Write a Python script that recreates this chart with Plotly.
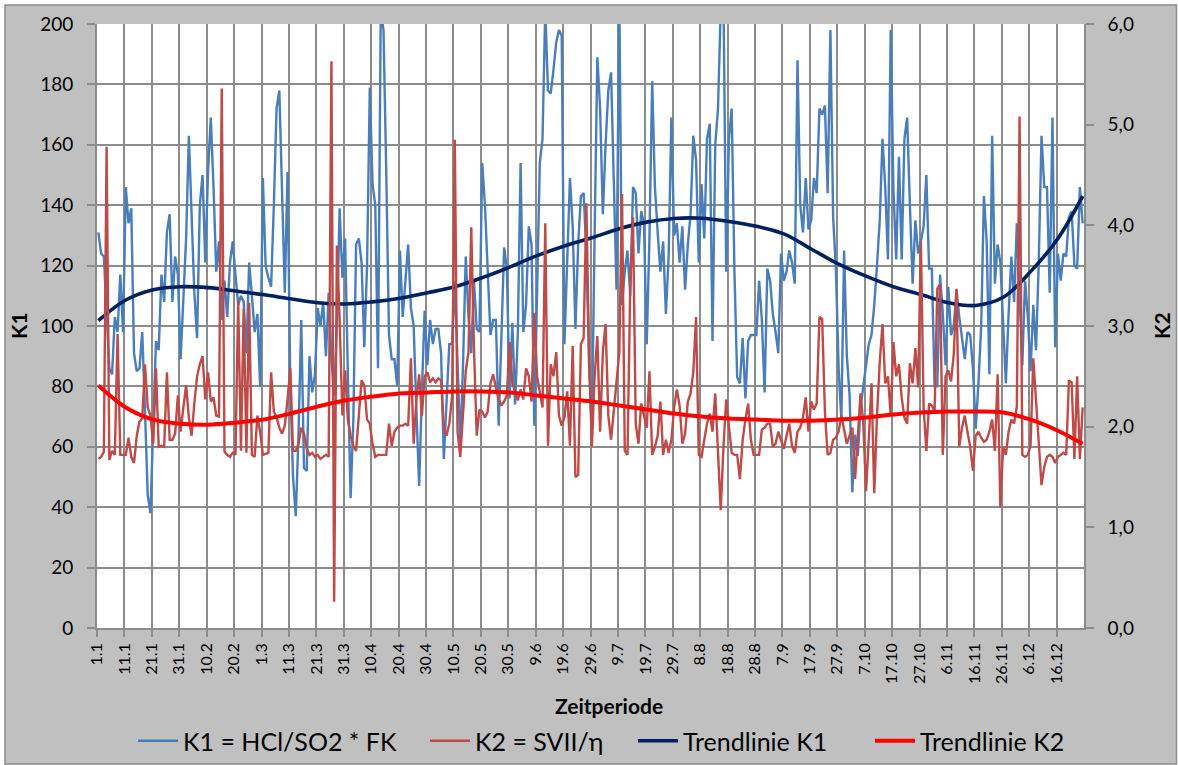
import plotly.graph_objects as go

# ---------------- data ----------------
tick_labels = ["1.1", "11.1", "21.1", "31.1", "10.2", "20.2", "1.3", "11.3", "21.3", "31.3",
               "10.4", "20.4", "30.4", "10.5", "20.5", "30.5", "9.6", "19.6", "29.6", "9.7",
               "19.7", "29.7", "8.8", "18.8", "28.8", "7.9", "17.9", "27.9", "7.10", "17.10",
               "27.10", "6.11", "16.11", "26.11", "6.12", "16.12"]

k1_values = [
    131, 124, 123, 104, 86, 84, 103, 98, 117, 98,
    146, 134, 139, 91, 85, 86, 98, 72, 44, 38,
    70, 95, 92, 117, 108, 131, 137, 108, 123, 117,
    89, 107, 129, 163, 137, 111, 96, 140, 150, 121,
    151, 169, 146, 118, 128, 102, 115, 103, 121, 128,
    117, 107, 110, 108, 91, 121, 110, 98, 104, 80,
    149, 120, 116, 113, 140, 172, 178, 140, 111, 151,
    81, 50, 37, 64, 102, 53, 52, 90, 78, 84,
    106, 100, 108, 90, 111, 89, 77, 100, 139, 116,
    129, 84, 43, 69, 127, 129, 121, 93, 120, 179,
    147, 140, 86, 205, 198, 151, 97, 89, 89, 80,
    125, 103, 115, 127, 106, 100, 72, 47, 78, 105,
    87, 102, 94, 99, 99, 91, 56, 78, 94, 94,
    115, 88, 60, 87, 123, 103, 91, 115, 99, 98,
    154, 140, 120, 97, 102, 102, 67, 97, 126, 119,
    76, 101, 74, 98, 154, 98, 107, 133, 127, 67,
    112, 154, 162, 205, 178, 177, 185, 194, 198, 196,
    94, 123, 149, 133, 99, 127, 143, 144, 124, 87,
    65, 130, 189, 172, 137, 160, 178, 184, 150, 112,
    210, 107, 118, 125, 110, 146, 144, 124, 138, 134,
    94, 129, 181, 146, 131, 118, 128, 104, 123, 169,
    130, 134, 121, 133, 112, 127, 137, 163, 155, 121,
    147, 129, 162, 167, 95, 160, 172, 205, 210, 118,
    162, 172, 118, 83, 81, 96, 76, 95, 97, 97,
    97, 115, 102, 78, 119, 115, 104, 98, 91, 124,
    115, 118, 125, 121, 114, 188, 140, 131, 149, 132,
    135, 149, 144, 172, 170, 173, 144, 198, 136, 119,
    86, 69, 125, 90, 77, 45, 64, 57, 73, 80,
    88, 94, 97, 107, 120, 135, 162, 146, 122, 198,
    145, 122, 156, 122, 162, 169, 140, 114, 135, 124,
    128, 133, 150, 119, 119, 80, 80, 117, 104, 87,
    113, 97, 100, 112, 103, 95, 89, 98, 97, 86,
    66, 81, 100, 143, 128, 84, 163, 114, 127, 121,
    99, 81, 104, 123, 108, 134, 110, 87, 115, 103,
    85, 107, 92, 121, 163, 146, 146, 111, 169, 93,
    124, 115, 124, 123, 136, 138, 120, 119, 146, 134,
]

k2_values = [
    1.68, 1.70, 1.75, 4.78, 1.67, 1.76, 1.72, 2.92, 1.72, 1.72,
    1.72, 1.89, 1.70, 1.64, 1.91, 2.05, 2.08, 2.62, 2.19, 2.11,
    1.83, 2.58, 1.80, 1.81, 1.80, 2.54, 1.87, 1.87, 1.93, 2.31,
    1.95, 2.19, 2.41, 2.09, 1.91, 2.23, 2.50, 2.62, 2.70, 2.27,
    2.54, 2.25, 2.29, 2.11, 2.10, 5.36, 1.75, 1.72, 1.70, 1.74,
    1.72, 3.25, 1.76, 3.17, 1.74, 3.23, 1.72, 1.70, 2.11, 1.95,
    1.72, 1.73, 1.74, 2.54, 2.15, 2.09, 1.99, 1.93, 2.01, 2.27,
    2.58, 1.76, 1.76, 1.83, 1.99, 1.93, 1.78, 1.72, 1.74, 1.70,
    1.72, 1.68, 1.70, 1.72, 1.70, 5.63, 0.26, 3.80, 3.06, 2.11,
    2.56, 2.07, 1.91, 1.81, 1.76, 2.07, 2.46, 2.41, 2.07, 2.03,
    1.83, 1.70, 1.72, 1.72, 1.72, 1.72, 2.03, 1.81, 1.95, 1.99,
    2.01, 2.01, 2.03, 2.01, 2.68, 1.83, 2.27, 2.52, 2.11, 2.50,
    2.54, 2.44, 2.48, 2.44, 2.48, 2.46, 1.99, 1.91, 2.03, 2.30,
    4.85, 1.95, 1.70, 2.11, 2.55, 2.74, 3.98, 2.78, 1.91, 2.17,
    2.15, 2.09, 2.15, 2.43, 2.52, 2.39, 2.27, 2.21, 2.25, 2.31,
    2.84, 2.43, 2.35, 2.26, 2.37, 2.27, 2.58, 2.50, 2.25, 3.13,
    2.50, 2.33, 2.19, 4.02, 1.81, 2.62, 2.50, 2.74, 2.11, 2.01,
    2.09, 2.35, 1.81, 2.80, 1.50, 1.52, 2.82, 2.88, 4.22, 2.66,
    1.80, 2.50, 2.90, 1.95, 2.74, 3.02, 2.11, 1.87, 2.19, 2.45,
    2.74, 4.31, 1.76, 1.72, 3.41, 4.08, 2.03, 1.83, 2.23, 2.11,
    1.99, 2.55, 1.72, 1.80, 1.91, 2.25, 1.72, 1.87, 1.74, 1.87,
    2.19, 2.37, 2.21, 1.83, 1.93, 2.25, 2.33, 2.54, 3.09, 1.72,
    1.70, 1.87, 2.03, 2.13, 1.95, 2.33, 1.68, 1.17, 1.80, 2.27,
    2.00, 1.74, 1.72, 1.72, 1.48, 1.87, 2.07, 2.23, 1.87, 1.72,
    1.72, 1.72, 1.97, 1.99, 2.03, 2.03, 1.80, 1.83, 1.95, 1.87,
    1.78, 1.91, 2.03, 1.81, 1.74, 1.95, 1.99, 2.09, 2.29, 1.95,
    2.25, 2.17, 2.23, 3.09, 3.07, 2.15, 1.72, 1.74, 1.87, 1.89,
    1.95, 2.11, 1.95, 1.83, 1.91, 1.99, 1.48, 1.97, 2.33, 2.03,
    1.36, 1.87, 2.43, 1.34, 2.11, 2.64, 3.02, 2.43, 2.50, 2.11,
    2.84, 2.50, 2.62, 2.29, 2.09, 2.03, 2.63, 2.43, 2.78, 2.39,
    3.84, 2.19, 1.76, 2.23, 2.21, 2.15, 3.37, 3.41, 1.72, 2.50,
    2.56, 2.45, 2.72, 3.37, 1.80, 1.99, 2.11, 1.95, 1.80, 1.56,
    1.91, 1.95, 1.89, 1.85, 1.87, 1.95, 2.07, 1.76, 2.52, 1.20,
    1.80, 1.72, 1.95, 2.07, 2.03, 2.20, 5.08, 1.72, 1.70, 1.72,
    1.81, 2.68, 2.27, 1.87, 1.42, 1.60, 1.70, 1.72, 1.70, 1.64,
    1.70, 1.72, 1.74, 1.72, 2.46, 2.44, 1.68, 2.50, 1.68, 2.19,
]

trend_x = [0, 10, 20, 30, 40, 50, 60, 70, 80, 90, 100, 110, 120, 130, 140, 150, 160, 170,
           180, 190, 200, 210, 220, 230, 240, 250, 260, 270, 280, 290, 300, 310, 320, 330,
           340, 350, 359]
k1_trend = [101.8, 108.6, 112.0, 113.0, 112.7, 111.6, 110.4, 109.0, 107.7, 107.3, 108.0,
            109.2, 111.0, 113.0, 116.0, 119.5, 123.3, 126.5, 129.2, 132.2, 134.4, 135.6,
            135.7, 134.6, 133.0, 130.5, 125.5, 120.5, 116.5, 113.0, 110.4, 107.7, 106.8,
            109.5, 118.0, 129.0, 143.0]
k2_trend = [2.41, 2.19, 2.07, 2.03, 2.02, 2.04, 2.07, 2.13, 2.20, 2.26, 2.30, 2.33, 2.34,
            2.35, 2.35, 2.34, 2.31, 2.28, 2.25, 2.21, 2.17, 2.13, 2.10, 2.08, 2.07, 2.06,
            2.06, 2.07, 2.09, 2.12, 2.14, 2.15, 2.15, 2.14, 2.07, 1.96, 1.83]

names = ["K1 = HCl/SO2 * FK", "K2 = SVII/η", "Trendlinie K1", "Trendlinie K2"]

# ---------------- figure ----------------
FONT = "Lato, 'Open Sans', sans-serif"
W, H = 1178, 765
L, R, T, B = 97, 1084, 24, 628          # plot area in px
pw, ph = R - L, B - T

def px_x(x):
    return (x - L) / pw

def px_y(y):
    return (B - y) / ph

days = list(range(len(k1_values)))

fig = go.Figure()
fig.add_trace(go.Scatter(x=days, y=k1_values, name=names[0], mode="lines",
                         line=dict(color="#4A7EBB", width=2.4), legend="legend"))
fig.add_trace(go.Scatter(x=trend_x, y=k1_trend, name=names[2], mode="lines",
                         line=dict(color="#002060", width=3.6, shape="spline"),
                         legend="legend3"))
fig.add_trace(go.Scatter(x=days, y=k2_values, name=names[1], mode="lines", yaxis="y2",
                         line=dict(color="#BE4B48", width=2.4), legend="legend2"))
fig.add_trace(go.Scatter(x=trend_x, y=k2_trend, name=names[3], mode="lines", yaxis="y2",
                         line=dict(color="#FF0000", width=4, shape="spline"),
                         legend="legend4"))

# legend text starts (px) in the reference
legend_text_x = [183, 475, 683, 920]

def leg(px):
    return dict(orientation="h", xref="container", yref="container",
                x=(px - 50) / W, xanchor="left", y=1 - 741 / H, yanchor="middle",
                font=dict(size=25, family=FONT), bgcolor="rgba(0,0,0,0)",
                itemwidth=40)

grid = "#8C8C8C"
fig.update_layout(
    width=W, height=H,
    margin=dict(l=L, r=W - R, t=T, b=H - B),
    paper_bgcolor="white",
    plot_bgcolor="white",
    separators=",.",
    font=dict(family=FONT, color="black", size=19),
    showlegend=True,
    legend=leg(legend_text_x[0]),
    legend2=leg(legend_text_x[1]),
    legend3=leg(legend_text_x[2]),
    legend4=leg(legend_text_x[3]),
    xaxis=dict(range=[-0.5, len(days) - 0.5], tickmode="array",
               tickvals=[10 * k - 0.5 for k in range(len(tick_labels))],
               ticktext=tick_labels, tickangle=-90, tickfont=dict(size=16),
               showgrid=True, gridcolor=grid, gridwidth=1.6,
               ticks="outside", ticklen=7, tickcolor=grid, tickwidth=1.6,
               showline=True, linecolor=grid, linewidth=1.6, zeroline=False),
    yaxis=dict(range=[0, 200], dtick=20, tickfont=dict(size=19),
               showgrid=True, gridcolor=grid, gridwidth=1.6,
               ticks="outside", ticklen=8, tickcolor=grid, tickwidth=1.6,
               ticklabelstandoff=10,
               showline=True, linecolor=grid, linewidth=1.6, zeroline=False),
    yaxis2=dict(range=[0, 6], dtick=1, tickformat=".1f", overlaying="y", side="right",
                tickfont=dict(size=19), showgrid=False,
                ticks="outside", ticklen=8, tickcolor=grid, tickwidth=1.6,
                ticklabelstandoff=10,
                showline=True, linecolor=grid, linewidth=1.6, zeroline=False),
    shapes=[
        dict(type="rect", xref="paper", yref="paper", layer="below",
             x0=px_x(5), x1=px_x(1176.5), y0=px_y(764), y1=px_y(5),
             fillcolor="#C0C0C0", line=dict(color="#8C8C8C", width=1.5)),
        dict(type="rect", xref="paper", yref="paper", layer="below",
             x0=0, x1=1, y0=0, y1=1, fillcolor="white", line=dict(width=0)),
    ],
    annotations=[
        dict(text="<b>K1</b>", xref="paper", yref="paper", x=px_x(18), y=0.5,
             xanchor="center", yanchor="middle",
             textangle=-90, showarrow=False, font=dict(size=21, family=FONT)),
        dict(text="<b>K2</b>", xref="paper", yref="paper", x=px_x(1161), y=0.5,
             xanchor="center", yanchor="middle",
             textangle=-90, showarrow=False, font=dict(size=21, family=FONT)),
        dict(text="<b>Zeitperiode</b>", xref="paper", yref="paper", x=px_x(609),
             y=px_y(705), xanchor="center", yanchor="middle",
             showarrow=False, font=dict(size=21, family=FONT)),
    ],
)

fig.write_html("out.html", config={"displayModeBar": False},
               post_script="document.body.style.margin='0px';document.body.style.overflow='hidden';")
